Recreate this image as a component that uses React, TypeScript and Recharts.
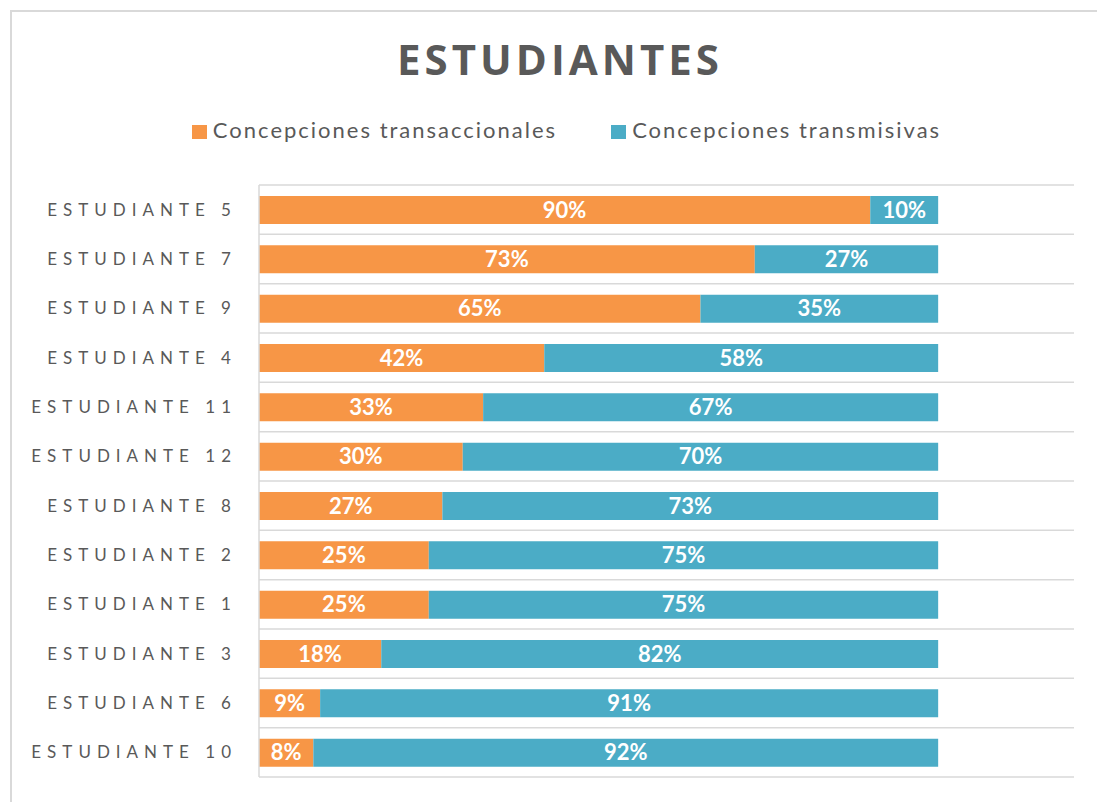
import React from 'react';
import { BarChart, Bar, XAxis, YAxis, CartesianGrid, LabelList } from 'recharts';

const students = [
  'ESTUDIANTE 5', 'ESTUDIANTE 7', 'ESTUDIANTE 9', 'ESTUDIANTE 4', 'ESTUDIANTE 11', 'ESTUDIANTE 12',
  'ESTUDIANTE 8', 'ESTUDIANTE 2', 'ESTUDIANTE 1', 'ESTUDIANTE 3', 'ESTUDIANTE 6', 'ESTUDIANTE 10',
];
const transaccionales = [90, 73, 65, 42, 33, 30, 27, 25, 25, 18, 9, 8];
const transmisivas = [10, 27, 35, 58, 67, 70, 73, 75, 75, 82, 91, 92];
const seriesNames = ['Concepciones transaccionales', 'Concepciones transmisivas'];
const colors = ['#F79646', '#4BACC6'];

const data = students.map((s, i) => ({ name: s, trans: transaccionales[i], transm: transmisivas[i] }));

const YTick = (props: any) => {
  const { x, y, payload } = props;
  return (
    <text x={x} y={y} dy="0.36em" textAnchor="end" fill="#595959" fontSize={17}
      letterSpacing={6} fontFamily="Lato, 'Open Sans', sans-serif">
      {payload.value}
    </text>
  );
};

const fmt = (v: any) => `${v}%`;

export default function App() {
  const n = students.length;
  return (
    <div style={{ position: 'absolute', left: 0, top: 0, width: 1097, height: 802, background: '#fff', overflow: 'hidden' }}>
      <div style={{ position: 'absolute', left: 10, top: 10, width: 1200, height: 900, borderLeft: '2px solid #d9d9d9', borderTop: '2px solid #d9d9d9' }} />
      <div style={{ position: 'absolute', left: 0, width: 1120, top: 34, textAlign: 'center', fontFamily: "'Open Sans', sans-serif", fontWeight: 700, fontSize: 42, letterSpacing: 4, color: '#595959', lineHeight: '50px' }}>
        ESTUDIANTES
      </div>
      <div style={{ position: 'absolute', left: 0, width: 1133, top: 116, display: 'flex', justifyContent: 'center', fontFamily: "Lato, 'Open Sans', sans-serif", fontSize: 22, color: '#595959', lineHeight: '28px', letterSpacing: 2 }}>
        {seriesNames.map((nm, i) => (
          <div key={nm} style={{ display: 'flex', alignItems: 'center', marginRight: i === 0 ? 54 : 0 }}>
            <span style={{ display: 'inline-block', width: 15, height: 14, background: colors[i], marginRight: 6, marginTop: 3 }} />
            <span>{nm}</span>
          </div>
        ))}
      </div>
      <div style={{ position: 'absolute', left: 0, top: 0 }}>
        <BarChart width={1097} height={802} data={data} layout="vertical"
          margin={{ top: 185, right: 23, bottom: 25, left: 0 }} barSize={28}>
          <CartesianGrid vertical={false} stroke="#d9d9d9" strokeWidth={1.5}
            horizontalCoordinatesGenerator={({ offset }: any) =>
              Array.from({ length: n + 1 }, (_, i) => offset.top + (i * offset.height) / n)} />
          <XAxis type="number" domain={[0, 120]} hide />
          <YAxis type="category" dataKey="name" width={259} tickLine={false} tickSize={0} tickMargin={22}
            axisLine={{ stroke: '#d9d9d9', strokeWidth: 1.5 }} tick={<YTick />} interval={0} />
          <Bar dataKey="trans" stackId="a" fill={colors[0]} isAnimationActive={false}>
            <LabelList dataKey="trans" position="center" formatter={fmt} fill="#fff" stroke="none"
              fontSize={22} fontWeight="bold" fontFamily="Lato, 'Open Sans', sans-serif" />
          </Bar>
          <Bar dataKey="transm" stackId="a" fill={colors[1]} isAnimationActive={false}>
            <LabelList dataKey="transm" position="center" formatter={fmt} fill="#fff" stroke="none"
              fontSize={22} fontWeight="bold" fontFamily="Lato, 'Open Sans', sans-serif" />
          </Bar>
        </BarChart>
      </div>
    </div>
  );
}
